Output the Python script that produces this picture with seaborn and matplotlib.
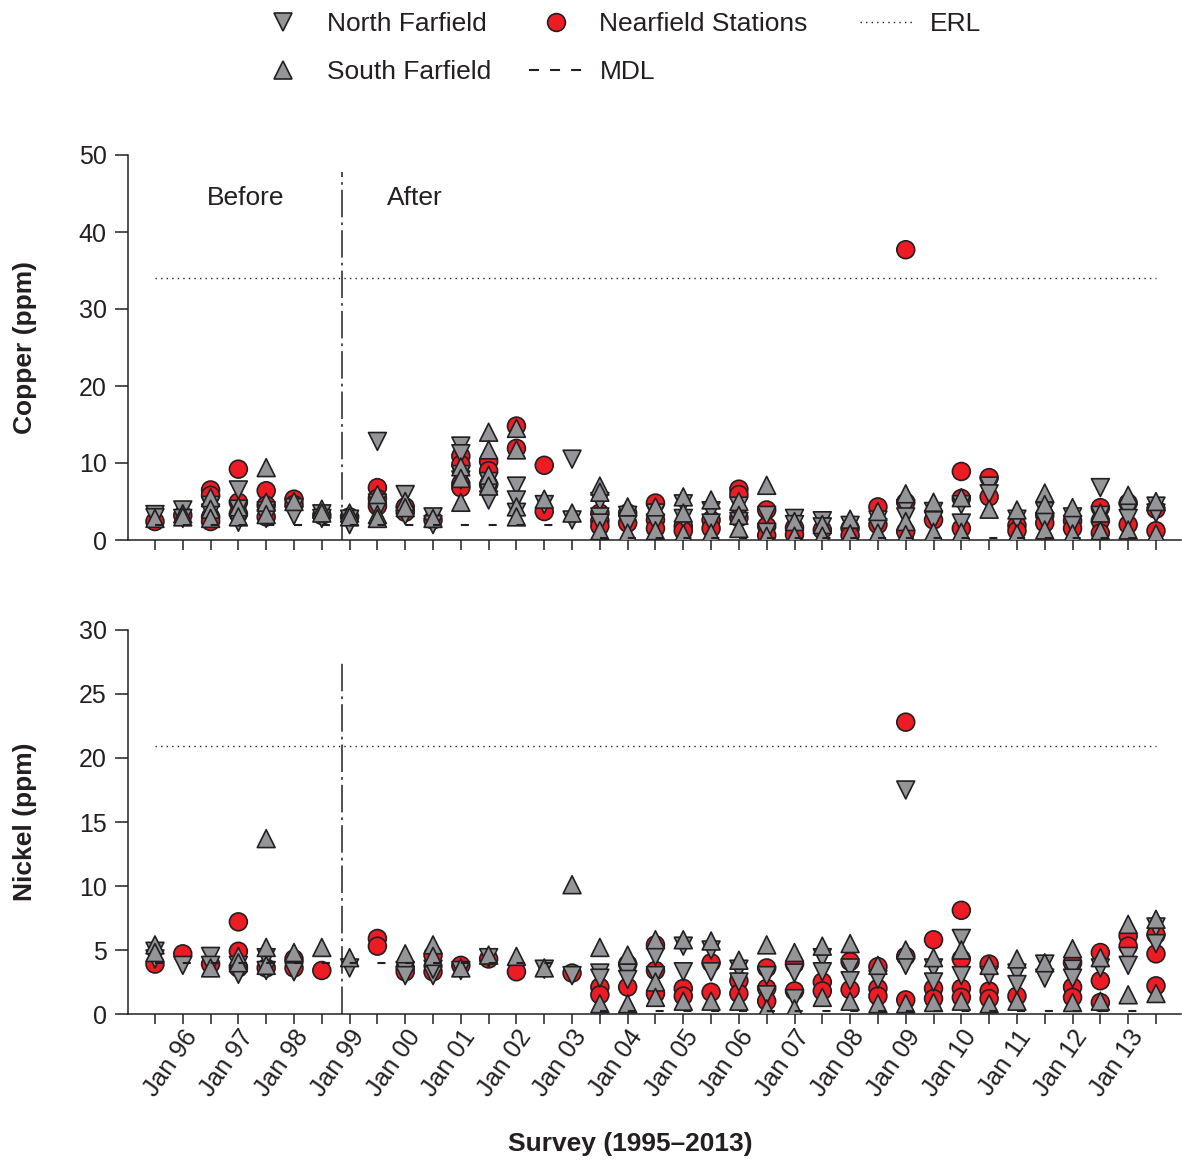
import numpy as np
import pandas as pd
import matplotlib
matplotlib.use("Agg")
import matplotlib.pyplot as plt
from matplotlib.lines import Line2D
import seaborn as sns

# ---------------- data ----------------
surveys = ["Aug 95", "Jan 96", "Aug 96", "Jan 97", "Aug 97", "Jan 98", "Aug 98",
           "Jan 99", "Aug 99", "Jan 00", "Aug 00", "Jan 01", "Aug 01", "Jan 02",
           "Aug 02", "Jan 03", "Aug 03", "Jan 04", "Aug 04", "Jan 05", "Aug 05",
           "Jan 06", "Aug 06", "Jan 07", "Aug 07", "Jan 08", "Aug 08", "Jan 09",
           "Aug 09", "Jan 10", "Aug 10", "Jan 11", "Aug 11", "Jan 12", "Aug 12",
           "Jan 13", "Aug 13"]

cu_near = [[2.4], [3.2], [6.5, 5.8, 3.0, 2.4], [9.2, 4.9, 3.4], [6.4, 4.5, 3.0],
           [5.3, 4.6], [3.2], [3.0], [6.8, 5.4, 4.4], [4.3, 3.6], [2.6],
           [10.9, 9.8, 7.3, 6.8], [10.2, 9.0, 7.2], [14.8, 11.9], [9.7, 3.7], [],
           [3.5, 2.5, 1.8], [3.5, 2.2], [4.8, 2.6, 1.5], [1.8, 1.2], [2.6, 1.5],
           [6.6, 5.9, 2.9], [3.9, 1.8, 0.6], [1.6, 0.7], [1.3], [1.5, 0.6],
           [4.3, 2.0], [37.7, 4.9, 1.1], [2.6], [8.9, 5.4, 1.5], [8.1, 5.6],
           [1.9, 1.2], [3.2, 2.2], [2.5, 1.5], [4.2, 2.5, 0.9], [4.8, 2.0], [4.0, 1.2]]
cu_north = [[3.3, 2.9], [3.9, 2.8], [4.5, 3.5], [6.5, 4.0, 2.3], [3.8, 2.8],
            [4.2, 3.2], [3.4, 2.8], [2.7, 2.0], [12.8, 4.8, 3.8], [5.9, 3.2],
            [3.0, 2.0], [12.2, 11.2, 8.5, 7.8], [7.6, 6.2, 5.2], [7.0, 5.2, 3.6],
            [4.6], [10.5, 2.6], [5.0, 3.0, 2.2], [3.2, 2.0], [3.5, 2.2], [4.7, 2.8],
            [3.8, 2.2], [4.4, 2.4], [3.2, 1.0], [2.8, 2.0], [2.5, 1.7], [1.9],
            [2.6, 1.6], [4.1, 3.0], [3.7, 2.5], [4.6, 2.2], [7.0, 6.0], [2.7],
            [3.7, 2.4], [3.0, 2.0], [6.8, 3.2], [3.7, 2.8], [4.4, 3.5]]
cu_south = [[2.8], [3.4, 3.0], [5.5, 4.0, 2.8], [4.3, 3.0], [9.4, 4.9, 3.3], [5.0],
            [4.0, 3.5], [3.5, 3.0], [5.9, 3.3, 2.8], [5.0, 4.2], [2.8],
            [9.5, 8.0, 4.9], [14.0, 11.7, 8.4, 7.0], [14.5, 11.7, 4.3, 3.0], [5.3],
            [3.5], [7.0, 6.2, 1.2], [4.3, 0.9], [4.3, 1.2], [5.6, 3.5, 0.8],
            [5.2, 0.9], [5.0, 3.2, 1.5], [7.1, 0.5], [2.4, 0.5], [2.0, 0.5],
            [2.7, 0.8], [3.7, 0.9], [6.0, 2.4, 0.7], [4.9, 1.0], [5.5, 1.0], [4.0],
            [3.9, 0.8], [6.1, 4.6, 1.3], [4.2, 0.8], [3.5, 1.2], [5.8, 1.3], [5.0, 0.8]]

ni_near = [[3.9], [4.7], [3.9], [7.2, 4.9, 3.6], [3.6], [4.3, 3.6], [3.4], [],
           [5.9, 5.3], [3.6, 3.3], [4.6, 3.3], [3.8], [4.3], [3.3], [], [3.2],
           [2.1, 1.5], [3.9, 2.1], [5.4, 3.4, 1.6], [2.0, 1.4], [4.0, 1.7],
           [2.6, 1.6], [3.6, 2.0, 1.0], [3.9, 1.8], [2.5, 1.8], [4.1, 1.9],
           [3.7, 2.0, 1.4], [22.8, 4.5, 1.1], [5.8, 2.0, 1.2], [8.1, 4.3, 2.0, 1.3],
           [3.9, 1.8, 1.2], [1.4], [], [4.0, 2.1, 1.3], [4.8, 2.6, 0.9], [6.1, 5.3],
           [6.2, 4.7, 2.2]]
ni_north = [[4.9, 4.3], [3.8], [4.5, 3.8], [3.8, 3.1], [4.4, 3.4], [3.3], [],
            [3.6], [], [3.4, 3.0], [3.0, 3.5], [3.4], [4.4], [], [3.5], [3.0],
            [3.2, 2.8], [3.2, 2.7], [4.5, 3.0], [5.3, 3.3], [5.0, 3.3], [3.5, 2.5],
            [3.0, 1.5], [3.2, 1.2], [4.4, 3.3], [3.6, 2.6], [2.7], [17.5, 3.8],
            [3.6, 2.5], [5.9, 3.0], [3.0], [3.2, 2.3], [3.9, 2.8], [3.5, 2.8], [3.6],
            [4.5, 3.8], [6.8, 5.5]]
ni_south = [[5.4, 4.8], [], [3.6], [4.5, 4.0], [13.7, 5.2, 3.8], [4.8], [5.2], [4.4],
            [], [4.7], [5.4, 4.5], [3.6], [4.6], [4.5], [3.6], [10.1], [5.2, 0.8],
            [4.6, 0.8], [5.8, 2.5, 1.3], [5.8, 1.0], [5.7, 1.0], [4.2, 1.0],
            [5.4, 0.4], [4.8, 0.4], [5.3, 1.3], [5.5, 1.0], [3.8, 0.8], [5.0, 0.8],
            [4.4, 0.9], [5.0, 1.0], [3.8, 0.8], [4.3, 1.0], [4.0], [5.1, 0.9],
            [4.4, 1.0], [7.0, 1.5], [7.4, 1.6]]

cu_mdl = [2.0, 2.0, 2.0, 2.0, 2.0, 2.0, 2.0, 2.0, 2.0, 2.0, 2.0, 2.0, 2.0, 2.0,
          2.0, 2.0, 0.2, 0.2, 0.2, 0.2, 0.2, 0.2, 0.2, 0.2, 0.2, 0.2, 0.2, 0.2,
          0.2, 0.2, 0.2, 0.2, 0.2, 0.2, 0.2, 0.2, 0.2]
ni_mdl = [4.0, 4.0, 4.0, 4.0, 4.0, 4.0, 4.0, 4.0, 4.0, 4.0, 4.0, 4.0, 4.0, 4.0,
          4.0, 4.0, 0.2, 0.2, 0.2, 0.2, 0.2, 0.2, 0.2, 0.2, 0.2, 0.2, 0.2, 0.2,
          0.2, 0.2, 0.2, 0.2, 0.2, 0.2, 0.2, 0.2, 0.2]
erl_cu = 34.0
erl_ni = 20.9
outfall_pos = 6.72   # between Aug 98 and Jan 99 surveys

GROUPS = ["Nearfield Stations", "North Farfield", "South Farfield"]

# ---------------- style ----------------
sns.set_style("ticks")
DARK = "#231F20"
RED = "#ED1C24"
GRAY = "#939598"
plt.rcParams["font.family"] = ["Liberation Sans", "DejaVu Sans"]
plt.rcParams["text.color"] = DARK
plt.rcParams["axes.labelcolor"] = DARK
plt.rcParams["xtick.color"] = DARK
plt.rcParams["ytick.color"] = DARK
plt.rcParams["axes.edgecolor"] = DARK

palette = dict(zip(GROUPS, [RED, GRAY, GRAY]))
markers = dict(zip(GROUPS, ["o", "v", "^"]))

W, H = 1182, 1163
fig = plt.figure(figsize=(W / 100, H / 100), dpi=100)
ax1 = fig.add_axes([128 / W, (H - 540) / H, 1053 / W, 385 / H])
ax2 = fig.add_axes([128 / W, (H - 1014) / H, 1053 / W, 384 / H])


def long_frame(near, north, south):
    rows = []
    for gname, lists in zip(GROUPS, [near, north, south]):
        for i, vals in enumerate(lists):
            for v in vals:
                rows.append((i, gname, v))
    return pd.DataFrame(rows, columns=["pos", "group", "value"])


def panel(ax, near, north, south, mdl, erl, ymax, ystep, ylabel, vtop):
    n = len(surveys)
    ax.set_xlim(-0.97, 36.9)
    ax.set_ylim(0, ymax)

    df = long_frame(near, north, south)
    sns.scatterplot(data=df, x="pos", y="value", hue="group", style="group",
                    hue_order=GROUPS, style_order=GROUPS,
                    palette=palette, markers=markers, s=165,
                    edgecolor=DARK, linewidth=1.2, legend=False, ax=ax, zorder=3)

    # MDL as a dashed line, one short dash per survey
    px = ax.transData.transform((1, 0))[0] - ax.transData.transform((0, 0))[0]
    per_pt = px * 72 / fig.dpi
    lw = 1.5
    on = 5.8
    mdl_df = pd.DataFrame({"pos": np.arange(n), "mdl": mdl})
    mdl_df["seg"] = (mdl_df["mdl"].diff().fillna(0) != 0).cumsum()
    sns.lineplot(data=mdl_df, x="pos", y="mdl", units="seg", estimator=None,
                 color=DARK, lw=lw, ax=ax, zorder=4,
                 linestyle=(0, (on / lw, (per_pt - on) / lw)))

    # ERL dotted line
    ax.hlines(erl, 0, n - 1, colors=DARK, linewidth=1.0,
              linestyles=[(0, (1, 3))], zorder=2)

    # Before / after divider
    ax.axvline(outfall_pos, ymin=0, ymax=vtop, color=DARK, lw=1.1,
               ls=(0, (18, 3.3, 1.8, 3.3)), zorder=2)

    ax.set_yticks(np.arange(0, ymax + 0.1, ystep))
    ax.set_xticks(np.arange(n))
    ax.tick_params(axis="y", length=9.4, width=1.1, labelsize=18, pad=6,
                   direction="out")
    ax.tick_params(axis="x", length=7, width=1.1, labelsize=18, direction="out")
    for s in ["left", "bottom"]:
        ax.spines[s].set_linewidth(1.1)
    sns.despine(ax=ax)
    ax.set_xlabel("")
    ax.set_ylabel(ylabel, fontsize=19, fontweight="bold")
    ax.yaxis.set_label_coords(-0.086, 0.5)


panel(ax1, cu_near, cu_north, cu_south, cu_mdl, erl_cu, 50, 10, "Copper (ppm)", 0.955)
panel(ax2, ni_near, ni_north, ni_south, ni_mdl, erl_ni, 30, 5, "Nickel (ppm)", 0.917)

ax1.set_xticklabels([""] * len(surveys))
ax2.set_xticklabels([s if s.startswith("Jan") else "" for s in surveys],
                    rotation=55, ha="right", va="top", rotation_mode="anchor")
ax2.tick_params(axis="x", pad=1.5)

ax1.text(3.27, 44.4, "Before", ha="center", va="center", fontsize=19)
ax1.text(9.35, 44.4, "After", ha="center", va="center", fontsize=19)

fig.text(630 / W, 1 - 1144 / H, "Survey (1995\u20132013)", ha="center", va="center",
         fontsize=19, fontweight="bold")

# legend (two blocks so the ERL column sits where it does in the original)
mk = dict(ls="none", markersize=12.8, markeredgecolor=DARK, markeredgewidth=1.2)
handles = [
    Line2D([], [], marker="v", markerfacecolor=GRAY, **mk),
    Line2D([], [], marker="^", markerfacecolor=GRAY, **mk),
    Line2D([], [], marker="o", markerfacecolor=RED, **mk),
    Line2D([], [], color=DARK, lw=1.5, ls=(0, (4.8, 5.3))),
]
labels = ["North Farfield", "South Farfield", "Nearfield Stations", "MDL"]
leg_kw = dict(frameon=False, fontsize=19, handlelength=2.0, handletextpad=0.65,
              columnspacing=1.45, labelspacing=0.92, borderpad=0, borderaxespad=0)
fig.legend(handles, labels, loc="upper left", bbox_to_anchor=(257 / W, 1 - 12 / H),
           ncol=2, **leg_kw)
fig.legend([Line2D([], [], color=DARK, lw=1.0, ls=(0, (1, 3)))], ["ERL"],
           loc="upper left", bbox_to_anchor=(860 / W, 1 - 12 / H), ncol=1, **leg_kw)

fig.savefig("out.png", dpi=100)
